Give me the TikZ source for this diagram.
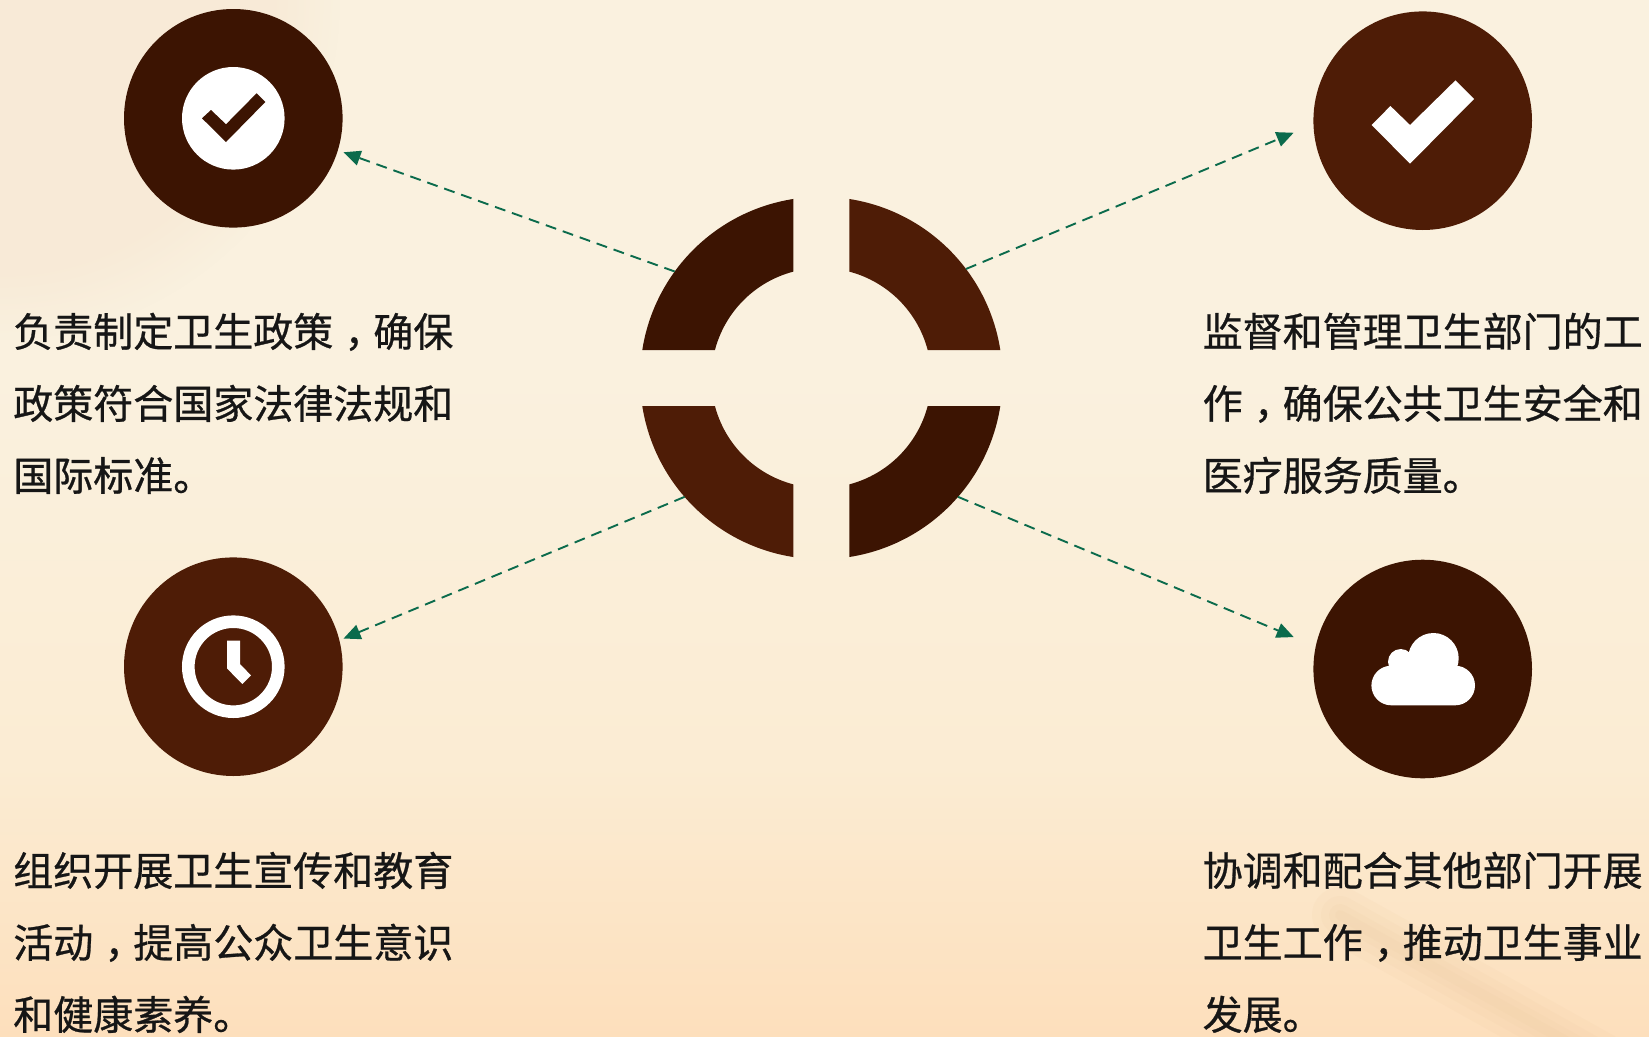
\documentclass[tikz,border=0pt]{standalone}
\usepackage{fontspec}
\setmainfont{Noto Sans CJK SC}[RawFeature={embolden=0.7}]
\usetikzlibrary{positioning,arrows.meta,fadings}

\definecolor{brownA}{HTML}{3C1402}
\definecolor{brownB}{HTML}{4E1C06}
\definecolor{flowgreen}{HTML}{0B6B4C}
\definecolor{textdark}{HTML}{161616}
\definecolor{bgA}{HTML}{FAF1DF}
\definecolor{bgB}{HTML}{FBECD3}
\definecolor{bgC}{HTML}{FDDFBC}
\definecolor{bgtint}{HTML}{F6E3CE}
\definecolor{bgband}{HTML}{E9C498}

\pgfdeclareverticalshading{pagebg}{100bp}{
    color(0bp)=(bgC); color(25bp)=(bgC); color(38bp)=(bgB); color(58bp)=(bgA); color(75bp)=(bgA); color(100bp)=(bgA)}

\newcommand{\midcomma}{\kern.28em，\kern-.28em}

\begin{document}
\begin{tikzpicture}[x=1pt, y=-1pt, node distance=50pt,
        disc/.style={circle, minimum size=218.6pt, inner sep=0pt, outer sep=0pt},
        blurb/.style={text width=440pt, inner sep=0pt, align=left, text=textdark,
            font=\fontsize{40}{72}\selectfont},
        flow/.style={draw=flowgreen, line width=1.9pt, dash pattern=on 11pt off 7pt,
            -{Triangle[length=17pt, width=15pt, fill=flowgreen]}},
        band/.style={draw=bgband, opacity=0.09, line cap=round}
    ]
        \useasboundingbox (0,0) rectangle (1649,1036);
        \shade[shading=pagebg] (0,0) rectangle (1649,1036);
        % faint tints of the page
        \fill [bgtint, opacity=0.45, path fading=circle with fuzzy edge 20 percent] (0,0) circle [radius=340];
        \foreach \wd in {56,38,22,10} {
            \draw [band, line width=\wd pt] (1340,915) -- (1600,1060);
        }

        % four icons
        \node [disc, fill=brownA] (rule) at (233.3,118.3) {};
        \node [disc, fill=brownB] (check) at (1422.7,120.7) {};
        \node [disc, fill=brownB] (clock) at (233.3,666.7) {};
        \node [disc, fill=brownA] (cloud) at (1422.7,669) {};

        % ring in the middle
        \node [circle, minimum size=362.4pt, inner sep=0pt, outer sep=0pt] (ring) at (821.3,378) {};
        \foreach \rot/\col in {0/brownB, 90/brownA, 180/brownB, 270/brownA} {
            \fill [\col, shift={(ring.center)}, y=1pt, rotate=\rot]
                (8.89:181.2) arc [start angle=8.89, end angle=81.11, radius=181.2]
                -- (75.25:110) arc [start angle=75.25, end angle=14.75, radius=110] -- cycle;
        }

        % icon glyphs
        \begin{scope}[shift={(rule.center)}]
            \fill [white] (0,0) circle [radius=51.3];
            \fill [brownA] (-31.3,0) -- (-22.3,-8.3) -- (-7.3,6) -- (23.3,-25) -- (32,-16.3) -- (-7.3,23.7) -- cycle;
        \end{scope}
        \begin{scope}[shift={(check.center)}]
            \fill [white] (-51,4.3) -- (-32.3,-14.7) -- (-12.7,4.3) -- (32.7,-40.3) -- (51.3,-21.7) -- (-12.7,43) -- cycle;
        \end{scope}
        \begin{scope}[shift={(clock.center)}]
            \draw [white, line width=12.6pt] (0,0) circle [radius=45];
            \fill [white] (-6.3,-26) -- (6.7,-26) -- (6.7,-2.7) -- (17.7,8.7) -- (9,17.3) -- (-6.3,1.7) -- cycle;
        \end{scope}
        \begin{scope}[shift={(cloud.center)}]
            \fill [white, rounded corners=19.8pt] (-51.3,-3.3) rectangle (52.3,36.3);
            \fill [white] (10.7,-10.7) circle [radius=25.3];
            \fill [white] (-22,-7.3) circle [radius=12.7];
        \end{scope}

        % texts
        \node [blurb, below=85pt of rule] (ruletext) {负责制定卫生政策\midcomma 确保\\政策符合国家法律法规和\\国际标准。};
        \node [blurb, below=82.6pt of check] (checktext) {监督和管理卫生部门的工\\作\midcomma 确保公共卫生安全和\\医疗服务质量。};
        \node [blurb, below=75.6pt of clock] (clocktext) {组织开展卫生宣传和教育\\活动\midcomma 提高公众卫生意识\\和健康素养。};
        \node [blurb, below=73.3pt of cloud] (cloudtext) {协调和配合其他部门开展\\卫生工作\midcomma 推动卫生事业\\发展。};

        \draw [flow, shorten >=6pt] (ring.144) -- (rule.-17);
        \draw [flow, shorten >=21.5pt] (ring.37) -- (check.182.5);
        \draw [flow, shorten >=4.5pt] (ring.221.6) -- (clock.14.8);
        \draw [flow, shorten >=23.9pt] (ring.-41.9) -- (cloud.168);

    \end{tikzpicture}
\end{document}
